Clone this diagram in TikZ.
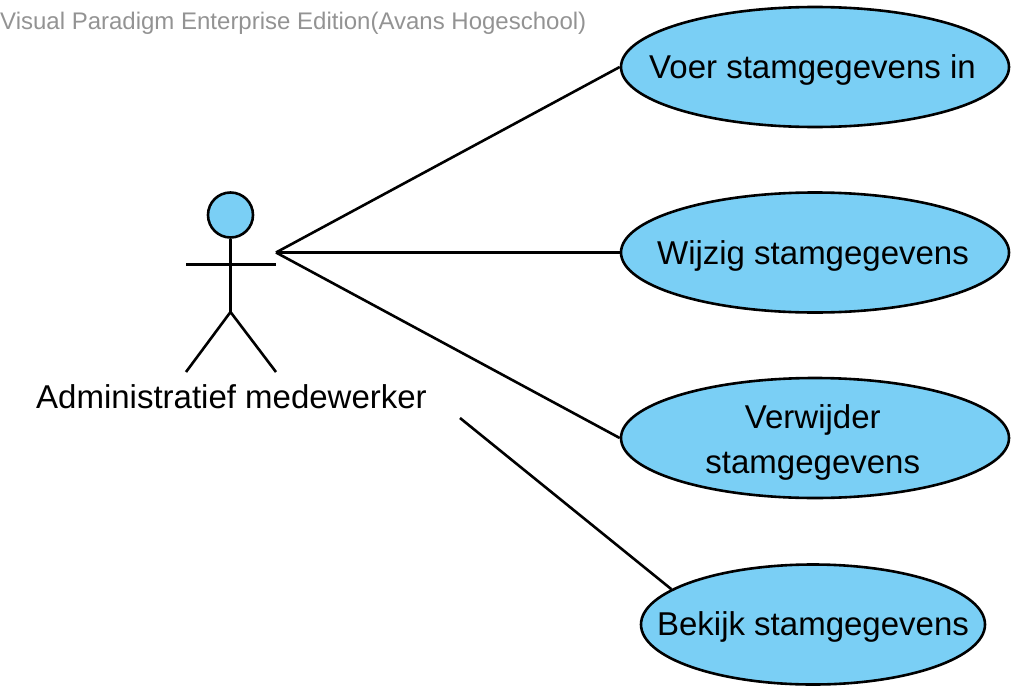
\documentclass[tikz,border=0pt]{standalone}
\usepackage{fontspec}
\setmainfont{Liberation Sans}
\usetikzlibrary{shapes.geometric}
\definecolor{ucfill}{RGB}{122,207,245}
\newcommand{\uctxt}[3]{\smash{\raisebox{#2}{\makebox[0pt]{\hspace*{#1}#3}}}}
\tikzset{
 x=1pt,y=-1pt,
 usecase/.style={ellipse,draw=black,line width=2.6pt,fill=ucfill,inner sep=0pt,minimum width=388pt,minimum height=120pt,align=center,font=\fontsize{33pt}{45pt}\selectfont},
 link/.style={draw=black,line width=2.6pt},
 lbl/.style={inner sep=0pt,font=\fontsize{33pt}{40pt}\selectfont}
}
\begin{document}
\begin{tikzpicture}
\useasboundingbox (0,0) rectangle (1020,696);
\node[inner sep=0pt,anchor=west,text=gray!85,font=\fontsize{24pt}{28pt}\selectfont] (wm) at (0,23) {Visual Paradigm Enterprise Edition(Avans Hogeschool)};
\node[usecase] (u1) at (815,67) {\uctxt{-5pt}{-11pt}{Voer stamgegevens in}};
\node[usecase] (u2) at (815,252.5) {\uctxt{-4pt}{-11.5pt}{Wijzig stamgegevens}};
\node[usecase] (u3) at (815,438) {\uctxt{-4.5pt}{-12.5pt}{Verwijder}\\\uctxt{-4.5pt}{-12.5pt}{stamgegevens}};
\node[usecase,minimum width=344pt] (u4) at (813,624.5) {\uctxt{0pt}{-11pt}{Bekijk stamgegevens}};
\node[circle,draw=black,line width=2.6pt,fill=ucfill,minimum size=45pt,inner sep=0pt] (head) at (230.5,215) {};
\coordinate (neck) at (230.5,237.5);
\coordinate (hip) at (230.5,312);
\coordinate (armL) at (186,264.5);
\coordinate (armR) at (276,264.5);
\coordinate (legL) at (186,372);
\coordinate (legR) at (276,372);
\draw[link] (head.south) -- (hip);
\draw[link] (armL) -- (armR);
\draw[link] (legL) -- (hip) -- (legR);
\node[lbl] (actor) at (231.5,397) {Administratief medewerker};
\coordinate (a) at (276,252.5);
\coordinate (b) at (460,418);
\draw[link] (a) -- (u1.west);
\draw[link] (a) -- (u2.west);
\draw[link] (a) -- (u3.west);
\draw[link] (b) -- (u4.166);
\end{tikzpicture}
\end{document}
